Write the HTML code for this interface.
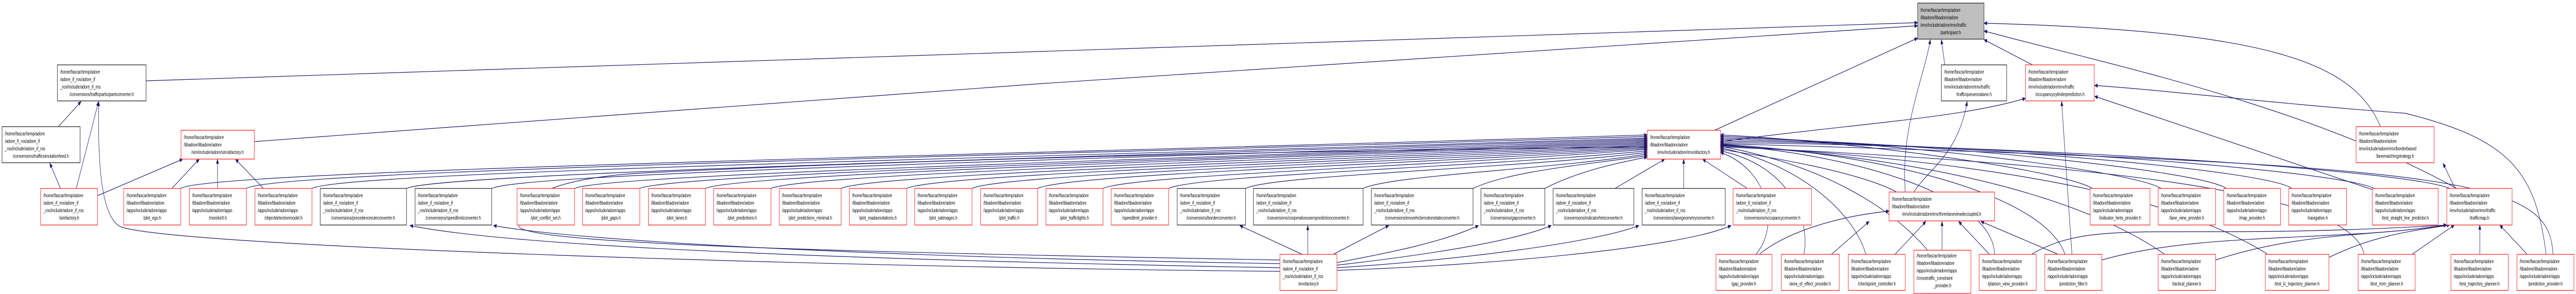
<!DOCTYPE html>
<html><head><meta charset="utf-8">
<style>
html,body{margin:0;padding:0;background:#fff;width:100vw;height:100vh;overflow:hidden;}
svg{display:block;position:fixed;left:0;top:0;width:100vw;height:100vh;}
text{font-family:"Liberation Sans",sans-serif;font-size:10.5px;fill:#000;}
.r{fill:#fff;stroke:#ff4040;stroke-width:1.5;}
.b{fill:#fff;stroke:#404040;stroke-width:1.5;}
.g{fill:#bfbfbf;stroke:#404040;stroke-width:1.5;}
.e{fill:none;stroke:#191970;stroke-width:1.2;}
.m{text-anchor:middle;}
</style></head><body>
<svg viewBox="0 0 7497 571" preserveAspectRatio="none" xmlns="http://www.w3.org/2000/svg" overflow="hidden">
<defs><marker id="a" markerWidth="10" markerHeight="8" refX="9" refY="4" orient="auto" markerUnits="userSpaceOnUse"><path d="M0,0 L10,4 L0,8 z" fill="#191970"/></marker></defs>
<g class="e" marker-end="url(#a)">
<path d="M425,157 L5581,44"/>
<path d="M740,275 C2000,210 4500,90 5581,50"/>
<path d="M4990,253 L5581,74"/>
<path d="M5660,126 L5650,77"/>
<path d="M5915,126 L5774,77"/>
<path d="M6928,246 C6850,120 6600,60 5774,45"/>
<path d="M7150,366 C6700,200 6100,120 5774,60"/>
<path d="M5545,373 C5530,250 5600,150 5618,77"/>
<path d="M5007,275 C5400,240 5700,230 5895,191"/>
<path d="M6030,494 L6000,197"/>
<path d="M7410,494 C7380,330 7300,270 7000,220 C6600,200 6300,175 6096,166"/>
<path d="M6903,368 L6096,187"/>
<path d="M5570,373 C5610,330 5700,300 5725,197"/>
<path d="M7145,366 L7110,317"/>
<path d="M170,246 L236,197"/>
<path d="M176,366 L145,317"/>
<path d="M222,366 L287,197"/>
<path d="M3725,527 C2500,520 500,480 350,440 C290,420 285,300 287,197"/>
<path d="M284,380 L532,309"/>
<path d="M500,366 L580,309"/>
<path d="M633,366 L633,309"/>
<path d="M767,366 L685,309"/>
<path d="M3725,520 C2500,505 1500,480 1193,438"/>
<path d="M3725,512 C2600,500 1700,470 1436,438"/>
<path d="M3790,494 L3608,438"/>
<path d="M3806,494 L3806,438"/>
<path d="M3880,494 L4042,438"/>
<path d="M3891,510 C4050,490 4200,470 4303,438"/>
<path d="M3891,515 C4150,495 4400,470 4515,438"/>
<path d="M3891,520 C4250,505 4650,470 4770,438"/>
<path d="M3891,525 C4350,515 4900,480 5038,438"/>
<path d="M3725,505 C2500,490 1540,475 1510,440 C1490,400 1560,345 1900,335 C3000,300 4200,290 4794,285"/>
<path d="M526,366 C600,330 3000,300 4794,262"/>
<path d="M717,366 C800,330 3000,302 4794,265"/>
<path d="M908,366 C1000,332 3100,305 4794,268"/>
<path d="M1183,366 C1280,335 3200,305 4794,270"/>
<path d="M1431,366 C1520,335 3300,308 4794,272"/>
<path d="M1672,366 C1760,338 3400,310 4794,274"/>
<path d="M1862,366 C1950,338 3500,310 4794,276"/>
<path d="M2053,366 C2140,338 3600,310 4794,278"/>
<path d="M2244,366 C2330,338 3700,312 4794,280"/>
<path d="M2448,366 C2530,338 3800,314 4794,282"/>
<path d="M2639,366 C2720,338 3900,316 4794,284"/>
<path d="M2829,366 C2910,338 4000,318 4794,286"/>
<path d="M3020,366 C3100,338 4100,320 4794,288"/>
<path d="M3210,366 C3290,340 4200,322 4794,290"/>
<path d="M3401,366 C3480,340 4300,325 4794,293"/>
<path d="M3625,366 C3700,340 4400,328 4794,296"/>
<path d="M3967,366 C4050,340 4500,330 4794,299"/>
<path d="M4287,366 C4400,330 4650,318 4794,302"/>
<path d="M4496,366 C4600,330 4720,315 4794,305"/>
<path d="M4700,366 L4845,309"/>
<path d="M4900,366 L4900,309"/>
<path d="M5085,366 L4955,309"/>
<path d="M5520,373 C5400,330 5100,300 5007,290"/>
<path d="M6090,366 C6000,330 5400,275 5007,262"/>
<path d="M6290,366 C6200,330 5500,275 5007,265"/>
<path d="M6480,366 C6400,330 5600,275 5007,268"/>
<path d="M6670,366 C6600,330 5700,278 5007,271"/>
<path d="M6910,366 C6800,330 5800,280 5007,274"/>
<path d="M7130,366 C7000,330 5900,282 5007,277"/>
<path d="M5110,494 C5180,440 5150,330 5007,296"/>
<path d="M5250,494 C5270,420 5200,320 5007,293"/>
<path d="M5430,494 C5400,420 5250,320 5007,287"/>
<path d="M5610,486 C5500,400 5300,320 5007,284"/>
<path d="M5805,494 C5800,380 5400,300 5007,281"/>
<path d="M6010,494 C5950,380 5500,300 5007,280"/>
<path d="M6300,494 C6100,400 5700,310 5007,282"/>
<path d="M6600,494 C6400,410 6000,320 5007,283"/>
<path d="M6880,494 C6850,380 6200,320 5007,285"/>
<path d="M7430,494 C7420,350 7200,320 5007,279"/>
<path d="M5120,494 C5200,450 5350,420 5498,410"/>
<path d="M5330,494 L5440,430"/>
<path d="M5515,494 L5605,430"/>
<path d="M5652,486 L5652,430"/>
<path d="M5790,494 L5700,430"/>
<path d="M5990,494 L5765,430"/>
<path d="M5912,494 C6100,420 6300,470 7121,437"/>
<path d="M6117,505 C6400,450 6800,470 7121,437"/>
<path d="M6448,505 C6700,450 6900,460 7121,437"/>
<path d="M6778,500 C6900,460 7000,450 7130,437"/>
<path d="M7020,494 L7143,437"/>
<path d="M7217,494 L7217,437"/>
<path d="M7355,494 L7275,437"/>
</g>

<g>
<rect class="g" x="5581" y="6" width="193" height="70"/>
<text x="5589" y="23">/home/fascar/temp/adore</text><text x="5589" y="37.5">/libadore/libadore/adore</text><text x="5589" y="52">/env/include/adore/env/traffic</text><text class="m" x="5677" y="66.5">/participant.h</text>
<rect class="b" x="167" y="126" width="258" height="70"/>
<text x="175" y="143">/home/fascar/temp/adore</text><text x="175" y="157.5">/adore_if_ros/adore_if</text><text x="175" y="172">_ros/include/adore_if_ros</text><text class="m" x="296" y="186.5">/conversions/trafficparticipantconverter.h</text>
<rect class="b" x="5650" y="126" width="190" height="70"/>
<text x="5658" y="143">/home/fascar/temp/adore</text><text x="5658" y="157.5">/libadore/libadore/adore</text><text x="5658" y="172">/env/include/adore/env/traffic</text><text class="m" x="5745" y="186.5">/trafficqueueonalane.h</text>
<rect class="r" x="5895" y="126" width="200" height="70"/>
<text x="5903" y="143">/home/fascar/temp/adore</text><text x="5903" y="157.5">/libadore/libadore/adore</text><text x="5903" y="172">/env/include/adore/env/traffic</text><text class="m" x="5995" y="186.5">/occupancycylinderprediction.h</text>
<rect class="b" x="6" y="246" width="227" height="70"/>
<text x="14" y="263">/home/fascar/temp/adore</text><text x="14" y="277.5">/adore_if_ros/adore_if</text><text x="14" y="292">_ros/include/adore_if_ros</text><text class="m" x="119" y="306.5">/conversions/trafficsimulationfeed.h</text>
<rect class="r" x="527" y="253" width="213" height="56"/>
<text x="535" y="270">/home/fascar/temp/adore</text><text x="535" y="284.5">/libadore/libadore/adore</text><text class="m" x="633" y="299">/sim/include/adore/sim/afactory.h</text>
<rect class="r" x="4794" y="253" width="213" height="56"/>
<text x="4802" y="270">/home/fascar/temp/adore</text><text x="4802" y="284.5">/libadore/libadore/adore</text><text class="m" x="4900" y="299">/env/include/adore/env/afactory.h</text>
<rect class="r" x="6857" y="246" width="227" height="70"/>
<text x="6865" y="263">/home/fascar/temp/adore</text><text x="6865" y="277.5">/libadore/libadore/adore</text><text x="6865" y="292">/env/include/adore/env/borderbased</text><text class="m" x="6970" y="306.5">/lanematchingstrategy.h</text>
</g>

<g>
<rect class="r" x="118" y="366" width="166" height="71"/><text x="126" y="383">/home/fascar/temp/adore</text><text x="126" y="397.5">/adore_if_ros/adore_if</text><text x="126" y="412">_ros/include/adore_if_ros</text><text class="m" x="201" y="426.5">/simfactory.h</text>
<rect class="r" x="360" y="366" width="166" height="71"/><text x="368" y="383">/home/fascar/temp/adore</text><text x="368" y="397.5">/libadore/libadore/adore</text><text x="368" y="412">/apps/include/adore/apps</text><text class="m" x="443" y="426.5">/plot_ego.h</text>
<rect class="r" x="551" y="366" width="166" height="71"/><text x="559" y="383">/home/fascar/temp/adore</text><text x="559" y="397.5">/libadore/libadore/adore</text><text x="559" y="412">/apps/include/adore/apps</text><text class="m" x="634" y="426.5">/monitor0.h</text>
<rect class="r" x="742" y="366" width="166" height="71"/><text x="750" y="383">/home/fascar/temp/adore</text><text x="750" y="397.5">/libadore/libadore/adore</text><text x="750" y="412">/apps/include/adore/apps</text><text class="m" x="825" y="426.5">/objectdetectionmodel.h</text>
<rect class="b" x="932" y="366" width="251" height="71"/><text x="940" y="383">/home/fascar/temp/adore</text><text x="940" y="397.5">/adore_if_ros/adore_if</text><text x="940" y="412">_ros/include/adore_if_ros</text><text class="m" x="1057" y="426.5">/conversions/precedenceruleconverter.h</text>
<rect class="b" x="1208" y="366" width="223" height="71"/><text x="1216" y="383">/home/fascar/temp/adore</text><text x="1216" y="397.5">/adore_if_ros/adore_if</text><text x="1216" y="412">_ros/include/adore_if_ros</text><text class="m" x="1319" y="426.5">/conversions/speedlimitconverter.h</text>
<rect class="r" x="1505" y="366" width="167" height="71"/><text x="1513" y="383">/home/fascar/temp/adore</text><text x="1513" y="397.5">/libadore/libadore/adore</text><text x="1513" y="412">/apps/include/adore/apps</text><text class="m" x="1588" y="426.5">/plot_conflict_set.h</text>
<rect class="r" x="1695" y="366" width="167" height="71"/><text x="1703" y="383">/home/fascar/temp/adore</text><text x="1703" y="397.5">/libadore/libadore/adore</text><text x="1703" y="412">/apps/include/adore/apps</text><text class="m" x="1778" y="426.5">/plot_gaps.h</text>
<rect class="r" x="1887" y="366" width="166" height="71"/><text x="1895" y="383">/home/fascar/temp/adore</text><text x="1895" y="397.5">/libadore/libadore/adore</text><text x="1895" y="412">/apps/include/adore/apps</text><text class="m" x="1970" y="426.5">/plot_lanes.h</text>
<rect class="r" x="2077" y="366" width="167" height="71"/><text x="2085" y="383">/home/fascar/temp/adore</text><text x="2085" y="397.5">/libadore/libadore/adore</text><text x="2085" y="412">/apps/include/adore/apps</text><text class="m" x="2160" y="426.5">/plot_predictions.h</text>
<rect class="r" x="2268" y="366" width="180" height="71"/><text x="2276" y="383">/home/fascar/temp/adore</text><text x="2276" y="397.5">/libadore/libadore/adore</text><text x="2276" y="412">/apps/include/adore/apps</text><text class="m" x="2358" y="426.5">/plot_predictions_minimal.h</text>
<rect class="r" x="2472" y="366" width="167" height="71"/><text x="2480" y="383">/home/fascar/temp/adore</text><text x="2480" y="397.5">/libadore/libadore/adore</text><text x="2480" y="412">/apps/include/adore/apps</text><text class="m" x="2555" y="426.5">/plot_roadannotations.h</text>
<rect class="r" x="2662" y="366" width="167" height="71"/><text x="2670" y="383">/home/fascar/temp/adore</text><text x="2670" y="397.5">/libadore/libadore/adore</text><text x="2670" y="412">/apps/include/adore/apps</text><text class="m" x="2745" y="426.5">/plot_satimages.h</text>
<rect class="r" x="2854" y="366" width="166" height="71"/><text x="2862" y="383">/home/fascar/temp/adore</text><text x="2862" y="397.5">/libadore/libadore/adore</text><text x="2862" y="412">/apps/include/adore/apps</text><text class="m" x="2937" y="426.5">/plot_traffic.h</text>
<rect class="r" x="3044" y="366" width="166" height="71"/><text x="3052" y="383">/home/fascar/temp/adore</text><text x="3052" y="397.5">/libadore/libadore/adore</text><text x="3052" y="412">/apps/include/adore/apps</text><text class="m" x="3127" y="426.5">/plot_trafficlights.h</text>
<rect class="r" x="3234" y="366" width="167" height="71"/><text x="3242" y="383">/home/fascar/temp/adore</text><text x="3242" y="397.5">/libadore/libadore/adore</text><text x="3242" y="412">/apps/include/adore/apps</text><text class="m" x="3317" y="426.5">/speedlimit_provider.h</text>
<rect class="b" x="3426" y="366" width="199" height="71"/><text x="3434" y="383">/home/fascar/temp/adore</text><text x="3434" y="397.5">/adore_if_ros/adore_if</text><text x="3434" y="412">_ros/include/adore_if_ros</text><text class="m" x="3525" y="426.5">/conversions/borderconverter.h</text>
<rect class="b" x="3648" y="366" width="319" height="71"/><text x="3656" y="383">/home/fascar/temp/adore</text><text x="3656" y="397.5">/adore_if_ros/adore_if</text><text x="3656" y="412">_ros/include/adore_if_ros</text><text class="m" x="3807" y="426.5">/conversions/cooperativeuserspredictionconverter.h</text>
<rect class="b" x="3991" y="366" width="296" height="71"/><text x="3999" y="383">/home/fascar/temp/adore</text><text x="3999" y="397.5">/adore_if_ros/adore_if</text><text x="3999" y="412">_ros/include/adore_if_ros</text><text class="m" x="4139" y="426.5">/conversions/envvehiclemotionstateconverter.h</text>
<rect class="b" x="4310" y="366" width="186" height="71"/><text x="4318" y="383">/home/fascar/temp/adore</text><text x="4318" y="397.5">/adore_if_ros/adore_if</text><text x="4318" y="412">_ros/include/adore_if_ros</text><text class="m" x="4403" y="426.5">/conversions/gapconverter.h</text>
<rect class="b" x="4520" y="366" width="235" height="71"/><text x="4528" y="383">/home/fascar/temp/adore</text><text x="4528" y="397.5">/adore_if_ros/adore_if</text><text x="4528" y="412">_ros/include/adore_if_ros</text><text class="m" x="4637" y="426.5">/conversions/indicatorhintconverter.h</text>
<rect class="b" x="4779" y="366" width="242" height="71"/><text x="4787" y="383">/home/fascar/temp/adore</text><text x="4787" y="397.5">/adore_if_ros/adore_if</text><text x="4787" y="412">_ros/include/adore_if_ros</text><text class="m" x="4900" y="426.5">/conversions/lanegeometryconverter.h</text>
<rect class="r" x="5044" y="366" width="228" height="71"/><text x="5052" y="383">/home/fascar/temp/adore</text><text x="5052" y="397.5">/adore_if_ros/adore_if</text><text x="5052" y="412">_ros/include/adore_if_ros</text><text class="m" x="5158" y="426.5">/conversions/occupancyconverter.h</text>
<rect class="r" x="5498" y="373" width="307" height="56"/><text x="5506" y="390">/home/fascar/temp/adore</text><text x="5506" y="404.5">/libadore/libadore/adore</text><text class="m" x="5651" y="419">/env/include/adore/env/threelaneviewdecoupled.h</text>
<rect class="r" x="6083" y="366" width="174" height="71"/><text x="6091" y="383">/home/fascar/temp/adore</text><text x="6091" y="397.5">/libadore/libadore/adore</text><text x="6091" y="412">/apps/include/adore/apps</text><text class="m" x="6170" y="426.5">/indicator_hints_provider.h</text>
<rect class="r" x="6281" y="366" width="167" height="71"/><text x="6289" y="383">/home/fascar/temp/adore</text><text x="6289" y="397.5">/libadore/libadore/adore</text><text x="6289" y="412">/apps/include/adore/apps</text><text class="m" x="6364" y="426.5">/lane_view_provider.h</text>
<rect class="r" x="6472" y="366" width="165" height="71"/><text x="6480" y="383">/home/fascar/temp/adore</text><text x="6480" y="397.5">/libadore/libadore/adore</text><text x="6480" y="412">/apps/include/adore/apps</text><text class="m" x="6554" y="426.5">/map_provider.h</text>
<rect class="r" x="6661" y="366" width="168" height="71"/><text x="6669" y="383">/home/fascar/temp/adore</text><text x="6669" y="397.5">/libadore/libadore/adore</text><text x="6669" y="412">/apps/include/adore/apps</text><text class="m" x="6745" y="426.5">/navigation.h</text>
<rect class="r" x="6904" y="366" width="192" height="71"/><text x="6912" y="383">/home/fascar/temp/adore</text><text x="6912" y="397.5">/libadore/libadore/adore</text><text x="6912" y="412">/apps/include/adore/apps</text><text class="m" x="7000" y="426.5">/test_straight_line_predictor.h</text>
<rect class="r" x="7121" y="366" width="190" height="71"/><text x="7129" y="383">/home/fascar/temp/adore</text><text x="7129" y="397.5">/libadore/libadore/adore</text><text x="7129" y="412">/env/include/adore/env/traffic</text><text class="m" x="7216" y="426.5">/trafficmap.h</text>
</g>

<g>
<rect class="r" x="3725" y="494" width="166" height="70"/><text x="3733" y="511">/home/fascar/temp/adore</text><text x="3733" y="525.5">/adore_if_ros/adore_if</text><text x="3733" y="540">_ros/include/adore_if_ros</text><text class="m" x="3808" y="554.5">/envfactory.h</text>
<rect class="r" x="4994" y="494" width="163" height="70"/><text x="5002" y="511">/home/fascar/temp/adore</text><text x="5002" y="525.5">/libadore/libadore/adore</text><text x="5002" y="540">/apps/include/adore/apps</text><text class="m" x="5075" y="554.5">/gap_provider.h</text>
<rect class="r" x="5184" y="494" width="169" height="70"/><text x="5192" y="511">/home/fascar/temp/adore</text><text x="5192" y="525.5">/libadore/libadore/adore</text><text x="5192" y="540">/apps/include/adore/apps</text><text class="m" x="5268" y="554.5">/area_of_effect_provider.h</text>
<rect class="r" x="5379" y="494" width="166" height="70"/><text x="5387" y="511">/home/fascar/temp/adore</text><text x="5387" y="525.5">/libadore/libadore/adore</text><text x="5387" y="540">/apps/include/adore/apps</text><text class="m" x="5462" y="554.5">/checkpoint_controller.h</text>
<rect class="r" x="5570" y="486" width="166" height="84"/><text x="5578" y="500">/home/fascar/temp/adore</text><text x="5578" y="514.5">/libadore/libadore/adore</text><text x="5578" y="529">/apps/include/adore/apps</text><text x="5578" y="543.5">/crosstraffic_constraint</text><text class="m" x="5653" y="558">_provider.h</text>
<rect class="r" x="5760" y="494" width="166" height="70"/><text x="5768" y="511">/home/fascar/temp/adore</text><text x="5768" y="525.5">/libadore/libadore/adore</text><text x="5768" y="540">/apps/include/adore/apps</text><text class="m" x="5843" y="554.5">/platoon_view_provider.h</text>
<rect class="r" x="5951" y="494" width="166" height="70"/><text x="5959" y="511">/home/fascar/temp/adore</text><text x="5959" y="525.5">/libadore/libadore/adore</text><text x="5959" y="540">/apps/include/adore/apps</text><text class="m" x="6034" y="554.5">/prediction_filter.h</text>
<rect class="r" x="6281" y="494" width="167" height="70"/><text x="6289" y="511">/home/fascar/temp/adore</text><text x="6289" y="525.5">/libadore/libadore/adore</text><text x="6289" y="540">/apps/include/adore/apps</text><text class="m" x="6364" y="554.5">/tactical_planner.h</text>
<rect class="r" x="6593" y="494" width="185" height="70"/><text x="6601" y="511">/home/fascar/temp/adore</text><text x="6601" y="525.5">/libadore/libadore/adore</text><text x="6601" y="540">/apps/include/adore/apps</text><text class="m" x="6685" y="554.5">/test_lc_trajectory_planner.h</text>
<rect class="r" x="6863" y="494" width="166" height="70"/><text x="6871" y="511">/home/fascar/temp/adore</text><text x="6871" y="525.5">/libadore/libadore/adore</text><text x="6871" y="540">/apps/include/adore/apps</text><text class="m" x="6946" y="554.5">/test_mrm_planner.h</text>
<rect class="r" x="7133" y="494" width="167" height="70"/><text x="7141" y="511">/home/fascar/temp/adore</text><text x="7141" y="525.5">/libadore/libadore/adore</text><text x="7141" y="540">/apps/include/adore/apps</text><text class="m" x="7216" y="554.5">/test_trajectory_planner.h</text>
<rect class="r" x="7325" y="494" width="166" height="70"/><text x="7333" y="511">/home/fascar/temp/adore</text><text x="7333" y="525.5">/libadore/libadore/adore</text><text x="7333" y="540">/apps/include/adore/apps</text><text class="m" x="7408" y="554.5">/prediction_provider.h</text>
</g>
</svg>
</body></html>
